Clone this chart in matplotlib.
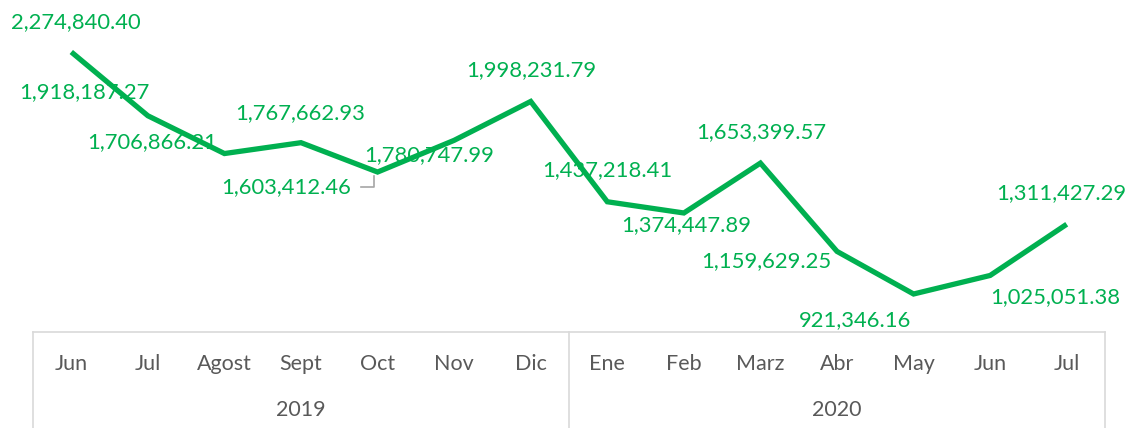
import matplotlib.pyplot as plt
from matplotlib.lines import Line2D

# datos
meses = ['Jun', 'Jul', 'Agost', 'Sept', 'Oct', 'Nov', 'Dic',
         'Ene', 'Feb', 'Marz', 'Abr', 'May', 'Jun', 'Jul']
anios = ['2019', '2020']
meses_por_anio = [7, 7]
valores = [2274840.40, 1918187.27, 1706866.21, 1767662.93, 1603412.46,
           1780747.99, 1998231.79, 1437218.41, 1374447.89, 1653399.57,
           1159629.25, 921346.16, 1025051.38, 1311427.29]

# desplazamiento de cada etiqueta (pixeles) respecto a su punto
offsets = [(5, 30), (-63, 24), (-72, 11), (-1, 30), (-91, -15), (-25, -15),
           (1, 31), (0, 32), (2, -12), (1, 31), (-71, -10), (-59, -26),
           (65, -22), (-5, 31)]

verde = '#00B050'
gris_txt = '#595959'
gris_linea = '#D9D9D9'
plt.rcParams['font.family'] = ['Lato', 'DejaVu Sans']

W, H = 1131, 428
fig = plt.figure(figsize=(W / 100, H / 100), dpi=100)
ax = fig.add_axes([33 / W, (H - 332) / H, (1105 - 33) / W, 332 / H])

x = list(range(len(valores)))
ax.plot(x, valores, color=verde, linewidth=3.8, solid_joinstyle='miter',
        solid_capstyle='butt')
ax.set_xlim(-0.5, len(valores) - 0.5)
ax.set_ylim(708800, 2565600)
ax.axis('off')

for i, v in enumerate(valores):
    dx, dy = offsets[i]
    ax.annotate(f'{v:,.2f}', (i, v), xytext=(dx, dy), textcoords='offset pixels',
                ha='center', va='center', color=verde, fontsize=15.8)

# linea guia de la etiqueta de Oct
px, py = ax.transData.transform((4, valores[4]))
guia = [(-17, -15), (-4, -15), (-4, -4)]
inv = fig.transFigure.inverted()
pts = [inv.transform((px + a, py + b)) for a, b in guia]
fig.add_artist(Line2D([p[0] for p in pts], [p[1] for p in pts],
                      color='#A6A6A6', linewidth=1.2))

# eje de categorias en dos niveles
tr = ax.get_xaxis_transform()
ax.plot([-0.5, len(valores) - 0.5], [0, 0], transform=tr, color=gris_linea,
        linewidth=1.2, clip_on=False)
inicio = 0
bordes = [-0.5]
for anio, n in zip(anios, meses_por_anio):
    centro = inicio + (n - 1) / 2
    ax.text(centro, -0.235, anio, transform=tr, ha='center', va='center',
            color=gris_txt, fontsize=15.5)
    inicio += n
    bordes.append(inicio - 0.5)
for b in bordes:
    ax.plot([b, b], [0, -0.3], transform=tr, color=gris_linea, linewidth=1.2,
            clip_on=False)
for i, m in enumerate(meses):
    ax.text(i, -0.0964, m, transform=tr, ha='center', va='center',
            color=gris_txt, fontsize=15.5)

fig.savefig('out.png', dpi=100)
